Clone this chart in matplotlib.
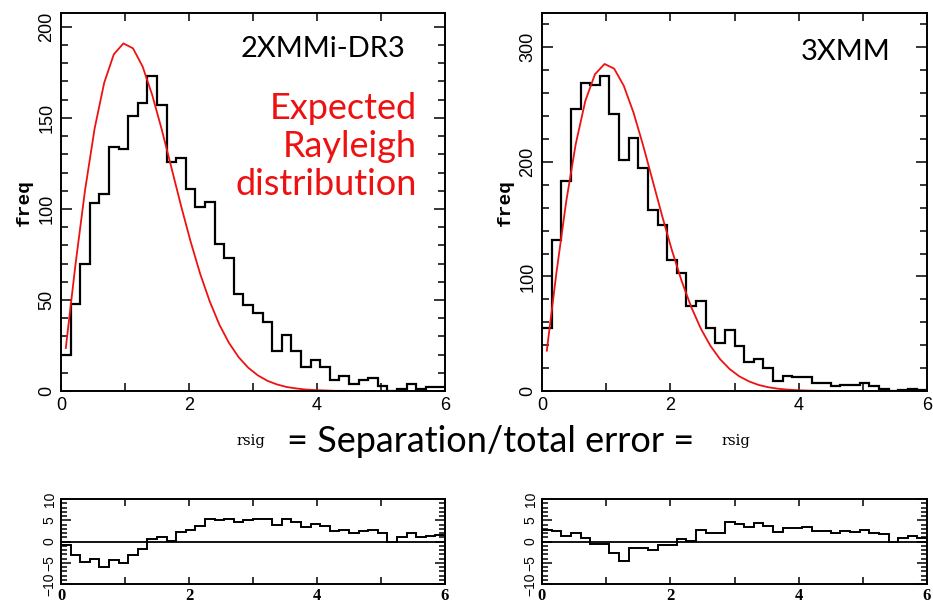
import numpy as np
import matplotlib.pyplot as plt
from matplotlib.ticker import MultipleLocator

# histogram binning in rsig
bin_width = 0.15
n_bins = 40
bin_edges = np.arange(n_bins + 1) * bin_width
bin_centres = bin_edges[:-1] + bin_width / 2

# 2XMMi-DR3 counts per bin, expected Rayleigh curve (at bin centres), residuals
dr3_counts = [20, 48, 70, 103, 108, 134, 133, 151, 158, 173,
              157, 126, 128, 111, 101, 104, 81, 73, 53, 47,
              43, 38, 22, 31, 22, 13, 17, 13, 6, 8,
              4, 6, 7, 3, 0, 1, 4, 1, 2, 2]
dr3_model = [23.6, 69.1, 110.1, 144.1, 169.3, 184.9, 190.9, 188.2, 178.2, 162.6,
             143.5, 122.7, 101.8, 82.1, 64.3, 49.1, 36.4, 26.4, 18.6, 12.8,
             8.6, 5.6, 3.6, 2.2, 1.4, 0.8, 0.5, 0.3, 0.1, 0.1,
             0, 0, 0, 0, 0, 0, 0, 0, 0, 0]
dr3_resid = [-0.8, -3.2, -4.8, -4.2, -6.0, -4.4, -5.0, -3.1, -1.7, 0.7,
             1.0, 0.2, 2.3, 2.8, 3.6, 5.4, 5.0, 5.4, 4.6, 5.0,
             5.4, 5.4, 4.0, 5.2, 4.5, 3.4, 4.2, 3.6, 2.4, 2.8,
             2.0, 2.4, 2.7, 1.9, 0.0, 1.1, 2.0, 1.1, 1.4, 1.5]

# 3XMM
xmm3_counts = [55, 132, 183, 246, 269, 267, 275, 242, 202, 221,
               195, 158, 145, 114, 103, 74, 79, 55, 42, 53,
               39, 25, 28, 20, 9, 13, 12, 12, 7, 7,
               4, 5, 5, 7, 4, 2, 0, 1, 2, 1]
xmm3_model = [35.2, 103.3, 164.6, 215.4, 253.2, 276.5, 285.5, 281.4, 266.4, 243.2,
              214.6, 183.5, 152.3, 122.8, 96.2, 73.4, 54.5, 39.4, 27.8, 19.1,
              12.8, 8.4, 5.3, 3.3, 2.0, 1.2, 0.7, 0.4, 0.2, 0.1,
              0, 0, 0, 0, 0, 0, 0, 0, 0, 0]
xmm3_resid = [2.8, 2.5, 1.25, 2.0, 0.9, -0.55, -0.6, -2.6, -4.5, -1.6,
              -1.5, -2.1, -0.8, -0.9, 0.6, 0.15, 2.7, 2.1, 2.1, 4.7,
              4.1, 3.4, 4.4, 3.75, 2.3, 3.2, 3.2, 3.4, 2.5, 2.5,
              1.9, 2.4, 2.2, 2.7, 2.1, 1.7, 0.0, 0.9, 1.4, 0.9]

x_ticks = [0, 1, 2, 3, 4, 5, 6]
x_ticklabels = ['0', '', '2', '', '4', '', '6']
resid_yticks = [-10, -5, 0, 5, 10]
resid_yticklabels = ['\u221210', '\u22125', '0', '5', '10']
note_lines = ['Expected', 'Rayleigh', 'distribution']

W, H = 933, 607


def box(x0, y0, x1, y1):
    # pixel box -> figure fraction
    return [x0 / W, 1 - y1 / H, (x1 - x0) / W, (y1 - y0) / H]


def px(x, y):
    return x / W, 1 - y / H


def pg_style(ax):
    for s in ax.spines.values():
        s.set_linewidth(1.4)
    ax.tick_params(which='both', direction='in', top=True, right=True,
                   width=1.1, colors='black')


fig = plt.figure(figsize=(W / 100, H / 100), dpi=100)

panels = [
    (box(61, 13, 445, 391), box(61, 499, 445, 584), dr3_counts, dr3_model, dr3_resid,
     207.6, 50, 10, '2XMMi-DR3', (405, 57)),
    (box(542, 13, 927, 391), box(542, 499, 927, 584), xmm3_counts, xmm3_model, xmm3_resid,
     330, 100, 20, '3XMM', (891, 60)),
]

for top_box, bot_box, counts, model, resid, ymax, ymaj, ymin, name, name_pos in panels:
    ax = fig.add_axes(top_box)
    ax.stairs(counts, bin_edges, baseline=None, color='black', linewidth=1.6)
    ax.plot(bin_centres, model, color='#ee1111', linewidth=1.3)
    ax.set_xlim(0, 6)
    ax.set_ylim(0, ymax)
    pg_style(ax)
    ax.set_xticks(x_ticks)
    ax.set_xticklabels(x_ticklabels, fontsize=13, family='Liberation Sans')
    ax.yaxis.set_major_locator(MultipleLocator(ymaj))
    ax.yaxis.set_minor_locator(MultipleLocator(ymin))
    ax.tick_params(axis='x', which='major', length=6, pad=4)
    ax.tick_params(axis='y', which='major', length=8, pad=4)
    ax.tick_params(axis='y', which='minor', length=5)
    for lab in ax.get_yticklabels():
        lab.set_rotation(90)
        lab.set_va('center')
        lab.set_fontsize(13)
        lab.set_family('Liberation Sans')
    ax.set_ylabel('freq', fontsize=14, family='Liberation Mono', weight='bold', labelpad=4)
    fig.text(*px(*name_pos), name, ha='right', va='baseline', fontsize=21, family='Lato')

    bx = fig.add_axes(bot_box)
    bx.stairs(resid, bin_edges, baseline=None, color='black', linewidth=1.4)
    bx.axhline(0, color='black', linewidth=1.3)
    bx.set_xlim(0, 6)
    bx.set_ylim(-10, 10)
    pg_style(bx)
    bx.set_xticks(x_ticks)
    bx.set_xticklabels(x_ticklabels, fontsize=12, family='Liberation Serif', weight='bold')
    bx.set_yticks(resid_yticks)
    bx.set_yticklabels(resid_yticklabels, fontsize=10, family='Liberation Sans',
                       rotation=90, va='center')
    bx.yaxis.set_minor_locator(MultipleLocator(1))
    bx.tick_params(axis='x', which='major', length=5, pad=3)
    bx.tick_params(axis='y', which='major', length=7, pad=3)
    bx.tick_params(axis='y', which='minor', length=4)

# red annotation on the left panel, one baseline per line
for line, base_y in zip(note_lines, [119, 157, 195]):
    fig.text(*px(417, base_y), line, color='#ee1111', ha='right', va='baseline',
             fontsize=26, family='Lato')

# shared x label
fig.text(*px(251, 441), 'rsig', ha='center', va='center', fontsize=10.5,
         family='DejaVu Serif')
fig.text(*px(491, 441), '= Separation/total error =', ha='center', va='center',
         fontsize=26, family='Lato')
fig.text(*px(736, 441), 'rsig', ha='center', va='center', fontsize=10.5,
         family='DejaVu Serif')

plt.savefig('out.png', dpi=100)
